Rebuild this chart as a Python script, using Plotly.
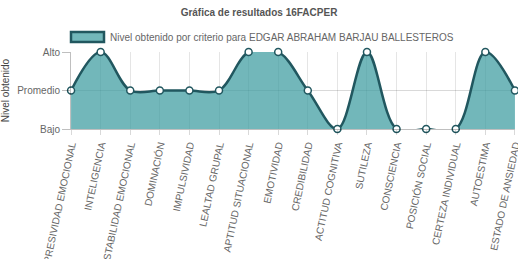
import plotly.graph_objects as go

categories = ["EXPRESIVIDAD EMOCIONAL", "INTELIGENCIA", "ESTABILIDAD EMOCIONAL", "DOMINACIÓN",
              "IMPULSIVIDAD", "LEALTAD GRUPAL", "APTITUD SITUACIONAL", "EMOTIVIDAD",
              "CREDIBILIDAD", "ACTITUD COGNITIVA", "SUTILEZA", "CONSCIENCIA",
              "POSICIÓN SOCIAL", "CERTEZA INDIVIDUAL", "AUTOESTIMA", "ESTADO DE ANSIEDAD"]
values = [1, 2, 1, 1, 1, 1, 2, 2, 1, 0, 2, 0, 0, 0, 2, 1]
level_vals = [0, 1, 2]
level_labels = ["Bajo", "Promedio", "Alto"]
series_name = "Nivel obtenido por criterio para EDGAR ABRAHAM BARJAU BALLESTEROS"
title = "Gráfica de resultados 16FACPER"

FILL = "rgba(60,155,160,0.72)"
LINE = "#21575f"
FONT = "Liberation Sans, Arial, sans-serif"

n = len(categories)
fig = go.Figure()
fig.add_trace(go.Scatter(
    x=list(range(n)), y=values,
    mode="lines+markers", fill="tozeroy", fillcolor=FILL,
    line=dict(color=LINE, width=2.5, shape="spline", smoothing=1.0),
    marker=dict(size=7, color="white", line=dict(color=LINE, width=1.5)),
    cliponaxis=False, showlegend=False, name=series_name,
))

fig.update_layout(
    width=518, height=259,
    margin=dict(l=71, r=3, t=52, b=130, autoexpand=False),
    paper_bgcolor="white", plot_bgcolor="white",
    font=dict(family=FONT, size=10, color="#666"),
    title=dict(text="<b>" + title + "</b>", x=0.5, xanchor="center", y=0.95, yanchor="middle",
               font=dict(size=10, color="#555")),
    showlegend=False,
)
fig.update_xaxes(
    range=[-0.002, n - 1 + 0.002], automargin=False,
    tickmode="array", tickvals=list(range(n)), ticktext=categories,
    tickangle=-78, ticks="outside", ticklen=5, tickcolor="rgba(0,0,0,0.15)",
    ticklabeloverflow="allow",
    showgrid=True, gridcolor="rgba(0,0,0,0.1)", gridwidth=1,
    showline=True, linecolor="rgba(0,0,0,0.25)", linewidth=1,
    zeroline=False, tickfont=dict(size=10, color="#666"),
)
fig.update_yaxes(
    range=[0, 2], automargin=False, tickmode="array", tickvals=level_vals, ticktext=level_labels,
    ticks="outside", ticklen=8, tickcolor="rgba(0,0,0,0.25)",
    showgrid=True, gridcolor="rgba(0,0,0,0.15)", gridwidth=1,
    showline=True, linecolor="rgba(0,0,0,0.25)", linewidth=1,
    zeroline=False, tickfont=dict(size=10, color="#666"),
    title=dict(text="Nivel obtenido", font=dict(size=10, color="#444"), standoff=12),
)

# legend drawn as shape + annotation
fig.add_shape(type="rect", xref="paper", yref="paper",
              x0=0.0, x1=(104 - 71) / 444, y0=1 + (52 - 42) / 77, y1=1 + (52 - 32) / 77,
              fillcolor=FILL, line=dict(color=LINE, width=2.5))
fig.add_annotation(text=series_name, xref="paper", yref="paper",
                   x=(108 - 71) / 444, y=1 + (52 - 37.5) / 77, xanchor="left", yanchor="middle",
                   showarrow=False, font=dict(size=10, color="#666"))

fig.write_html("out.html")
